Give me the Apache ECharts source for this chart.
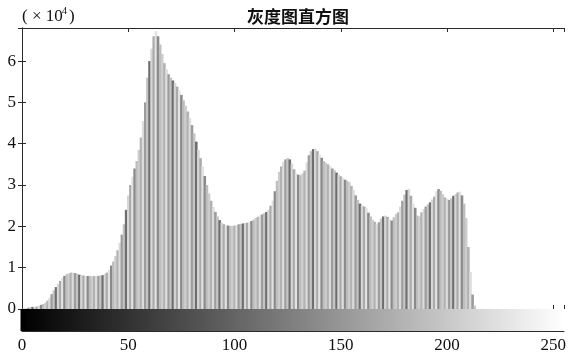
<!DOCTYPE html>
<html>
<head>
<meta charset="utf-8">
<script src="https://cdn.jsdelivr.net/npm/echarts@6/dist/echarts.min.js"></script>
<style>
  html, body { margin: 0; padding: 0; background: #fff; }
  #chart { width: 570px; height: 355px; }
</style>
</head>
<body>
<div id="chart"></div>
<script>
// Grey-level histogram of an 8-bit image (counts in units of 10^4)
const titleText = '灰度图直方图';
const xTicks = [0, 50, 100, 150, 200, 250];
const yTicks = [0, 1, 2, 3, 4, 5, 6];

// pixel count per grey level 0..255 (×10^4)
const counts = [
  0.01, 0.01, 0.02, 0.03, 0.04, 0.05, 0.05, 0.06, 0.08, 0.10,
  0.12, 0.15, 0.20, 0.27, 0.36, 0.45, 0.53, 0.61, 0.68, 0.75,
  0.80, 0.84, 0.86, 0.88, 0.88, 0.87, 0.85, 0.83, 0.82, 0.81,
  0.80, 0.80, 0.80, 0.79, 0.80, 0.80, 0.80, 0.81, 0.82, 0.85,
  0.88, 0.95, 1.05, 1.15, 1.28, 1.42, 1.60, 1.80, 2.05, 2.40,
  2.75, 3.00, 3.20, 3.40, 3.58, 3.85, 4.15, 4.55, 5.00, 5.60,
  6.00, 6.30, 6.60, 6.72, 6.60, 6.40, 6.17, 5.95, 5.80, 5.68,
  5.60, 5.53, 5.47, 5.38, 5.29, 5.18, 5.05, 4.92, 4.78, 4.62,
  4.45, 4.25, 4.05, 3.85, 3.65, 3.45, 3.22, 3.00, 2.80, 2.62,
  2.47, 2.35, 2.24, 2.15, 2.09, 2.05, 2.03, 2.02, 2.01, 2.01,
  2.02, 2.03, 2.05, 2.06, 2.07, 2.08, 2.09, 2.10, 2.13, 2.16,
  2.20, 2.23, 2.26, 2.29, 2.32, 2.35, 2.40, 2.50, 2.62, 2.85,
  3.10, 3.32, 3.45, 3.56, 3.62, 3.65, 3.62, 3.52, 3.38, 3.28,
  3.25, 3.24, 3.28, 3.35, 3.55, 3.72, 3.82, 3.87, 3.88, 3.82,
  3.74, 3.66, 3.58, 3.54, 3.50, 3.45, 3.40, 3.36, 3.30, 3.25,
  3.21, 3.17, 3.13, 3.10, 3.07, 2.98, 2.88, 2.75, 2.64, 2.55,
  2.50, 2.48, 2.45, 2.33, 2.24, 2.16, 2.11, 2.05, 2.10, 2.19,
  2.24, 2.26, 2.23, 2.18, 2.14, 2.22, 2.30, 2.34, 2.48, 2.62,
  2.77, 2.88, 2.90, 2.74, 2.55, 2.45, 2.26, 2.24, 2.34, 2.42,
  2.48, 2.53, 2.58, 2.65, 2.72, 2.85, 2.90, 2.86, 2.78, 2.70,
  2.66, 2.64, 2.68, 2.74, 2.78, 2.82, 2.84, 2.75, 2.55, 2.20,
  1.50, 0.90, 0.35, 0.08, 0, 0, 0, 0, 0, 0,
  0, 0, 0, 0, 0, 0, 0, 0, 0, 0,
  0, 0, 0, 0, 0, 0, 0, 0, 0, 0,
  0, 0, 0, 0, 0, 0, 0, 0, 0, 0,
  0, 0, 0, 0, 0, 0
];

// grey levels shown in the colour bar under the axis
const grayLevels = counts.map((_, i) => i);

// stem shades for the histogram bars
const stemShades = ['#cdcdcd', '#b2b2b2', '#dcdcdc', '#9c9c9c', '#c4c4c4',
                    '#6e6e6e', '#d6d6d6', '#aaaaaa', '#e2e2e2', '#8a8a8a', '#bdbdbd'];

const serif = '"Liberation Serif", "DejaVu Serif", serif';
const frame = '#2a2a2a';

const chart = echarts.init(document.getElementById('chart'), null, { renderer: 'canvas' });

const frameX = (grid, pos, labels) => ({
  type: 'value', gridIndex: grid, position: pos, min: 0, max: 255, interval: 50,
  axisLine: { show: true, onZero: false, lineStyle: { color: frame, width: 1 } },
  axisTick: { show: true, inside: true, length: 4, lineStyle: { color: frame } },
  axisLabel: labels ? {
    show: true, color: '#111', fontFamily: serif, fontSize: 17, margin: 6,
    showMaxLabel: false,
    formatter: v => xTicks.includes(v) ? String(v) : ''
  } : { show: false },
  splitLine: { show: false }
});

chart.setOption({
  animation: false,
  backgroundColor: '#fff',
  title: {
    text: titleText, left: 293, textAlign: 'center', top: 3,
    textStyle: { fontFamily: '"Noto Sans CJK SC", sans-serif', fontSize: 17, fontWeight: 'bold', color: '#111' }
  },
  grid: [
    { left: 22, right: 6, top: 28, bottom: 46 },
    { left: 22, right: 6, top: 309, bottom: 24 }
  ],
  xAxis: [
    frameX(0, 'bottom', false),
    frameX(0, 'top', false),
    frameX(1, 'bottom', true),
    frameX(1, 'top', false)
  ],
  yAxis: [
    {
      type: 'value', gridIndex: 0, position: 'left', min: 0, max: 6.8, interval: 1,
      axisLine: { show: true, lineStyle: { color: frame } },
      axisTick: { show: true, inside: true, length: 4, lineStyle: { color: frame } },
      axisLabel: {
        color: '#111', fontFamily: serif, fontSize: 17, margin: 6, showMaxLabel: false,
        formatter: v => yTicks.includes(v) ? String(v) : ''
      },
      splitLine: { show: false }
    },
    {
      type: 'value', gridIndex: 0, position: 'right', min: 0, max: 6.8, interval: 1,
      axisLine: { show: true, lineStyle: { color: frame } },
      axisTick: { show: true, inside: true, length: 4, lineStyle: { color: frame } },
      axisLabel: { show: false },
      splitLine: { show: false }
    },
    {
      type: 'value', gridIndex: 1, position: 'left', min: 0, max: 1,
      axisLine: { show: true, lineStyle: { color: frame } },
      axisTick: { show: false }, axisLabel: { show: false }, splitLine: { show: false }
    },
    {
      type: 'value', gridIndex: 1, position: 'right', min: 0, max: 1,
      axisLine: { show: true, lineStyle: { color: frame } },
      axisTick: { show: false }, axisLabel: { show: false }, splitLine: { show: false }
    }
  ],
  series: [
    {
      name: 'histogram', type: 'bar', xAxisIndex: 0, yAxisIndex: 0,
      barWidth: 2.6, clip: true,
      data: counts.map((v, i) => [i, v]),
      itemStyle: { color: p => stemShades[p.dataIndex % stemShades.length] }
    },
    {
      name: 'colorbar', type: 'bar', xAxisIndex: 2, yAxisIndex: 2,
      barWidth: 3, clip: true, z: 1,
      data: grayLevels.map(g => [g, 1]),
      itemStyle: { color: p => { const g = grayLevels[p.dataIndex]; return 'rgb(' + g + ',' + g + ',' + g + ')'; } }
    }
  ],
  graphic: [
    { type: 'text', left: 22, top: 8, style: { text: '( × 10', font: '17px ' + serif, fill: '#111' } },
    { type: 'text', left: 62, top: 6, style: { text: '4', font: '10px ' + serif, fill: '#111' } },
    { type: 'text', left: 69, top: 8, style: { text: ')', font: '17px ' + serif, fill: '#111' } }
  ]
});
</script>
</body>
</html>
